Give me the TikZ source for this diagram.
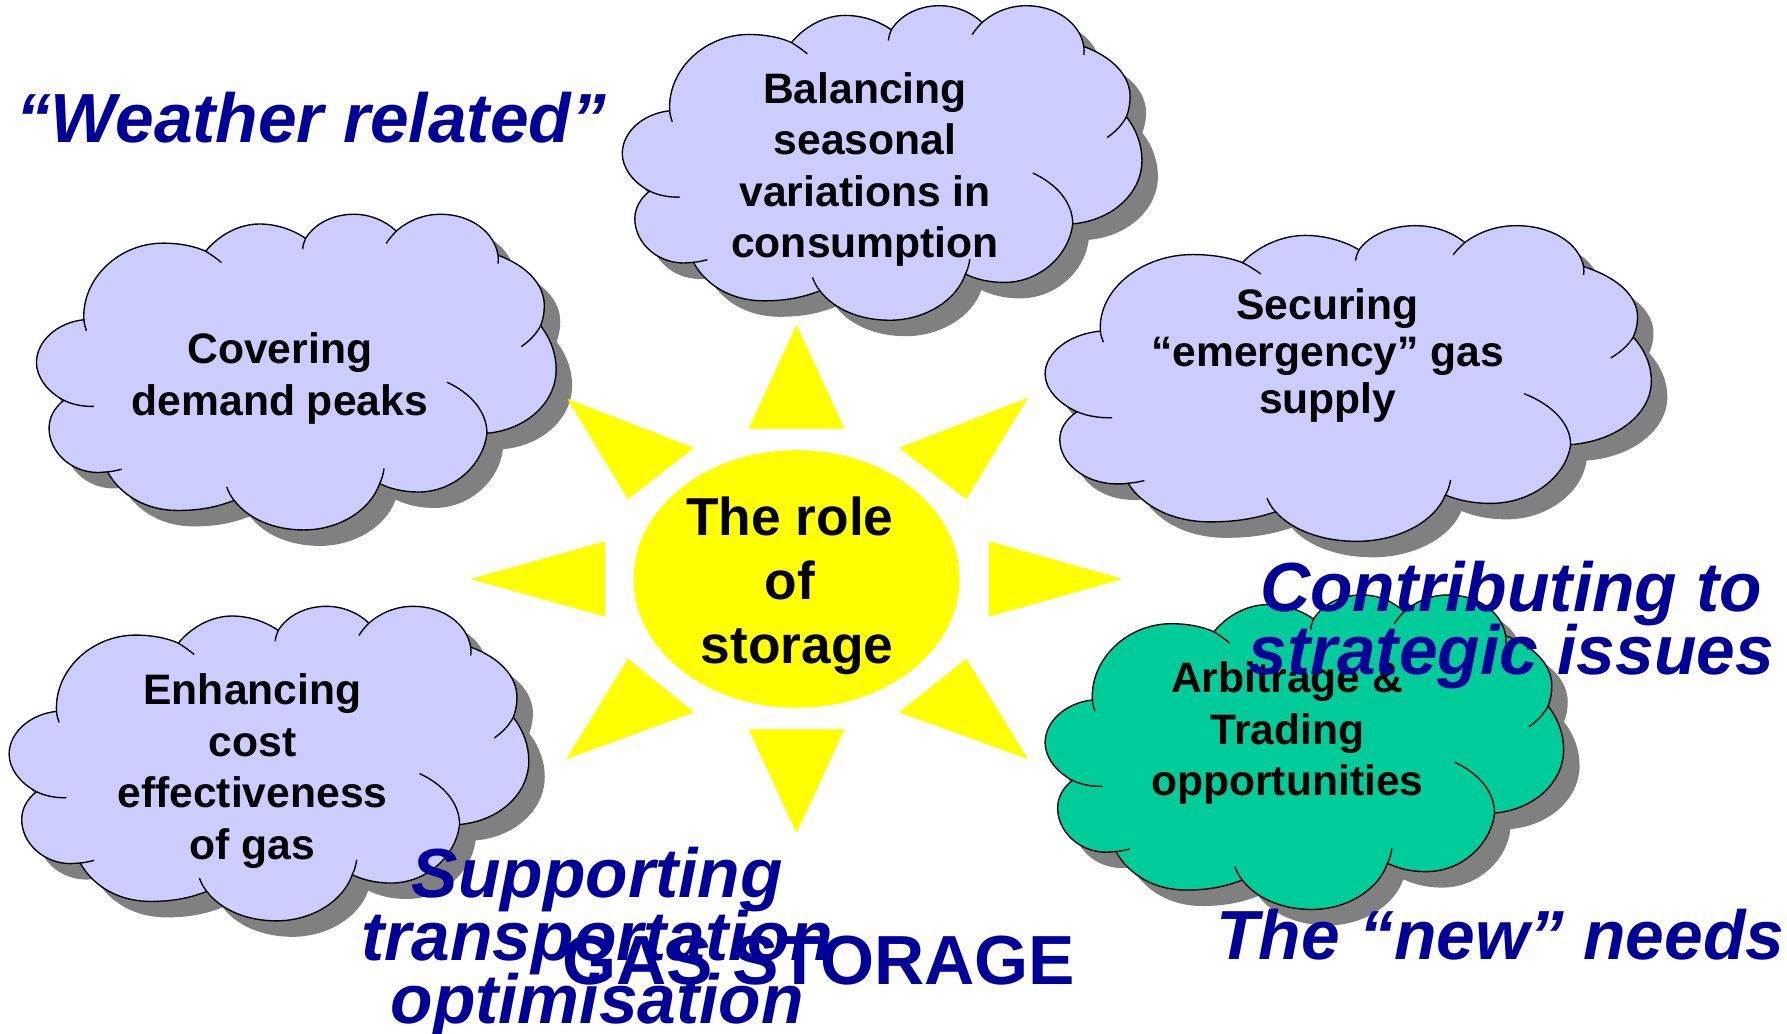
\documentclass[tikz,border=0pt]{standalone}
\usepackage{fontspec}
\setmainfont{Liberation Sans}
\definecolor{cloudblue}{HTML}{CCCCFF}
\definecolor{cloudgreen}{HTML}{00CC99}
\definecolor{shadowgrey}{HTML}{808080}
\definecolor{headblue}{HTML}{000099}
\definecolor{sunyellow}{HTML}{FFFF00}
\newcommand{\tightlines}{\setlength{\lineskiplimit}{-20pt}}
\newcommand{\cloudoutline}{(132,572) .. controls (85,545) and (58,500) .. (58,460) .. controls (58,395) and (115,340) .. (186,332)
 .. controls (180,210) and (280,104) .. (400,104) .. controls (445,104) and (485,113) .. (515,128)
 .. controls (555,75) and (610,47) .. (660,47) .. controls (705,47) and (750,63) .. (785,90)
 .. controls (810,45) and (860,18) .. (915,18) .. controls (960,18) and (1000,37) .. (1030,68)
 .. controls (1065,35) and (1105,18) .. (1150,18) .. controls (1230,18) and (1295,70) .. (1305,140)
 .. controls (1380,170) and (1430,225) .. (1430,290) .. controls (1430,310) and (1427,330) .. (1420,350)
 .. controls (1448,390) and (1462,435) .. (1462,480) .. controls (1462,580) and (1380,660) .. (1275,670)
 .. controls (1265,765) and (1185,845) .. (1090,845) .. controls (1050,845) and (1015,836) .. (985,820)
 .. controls (960,900) and (875,958) .. (780,958) .. controls (700,958) and (630,925) .. (592,870)
 .. controls (545,890) and (500,900) .. (440,900) .. controls (355,900) and (285,855) .. (250,785)
 .. controls (240,787) and (235,787) .. (225,787) .. controls (150,787) and (92,725) .. (92,655)
 .. controls (92,625) and (105,595) .. (132,572) -- cycle}
\newcommand{\cloudhooks}{(132,572) .. controls (155,585) and (185,591) .. (213,590)
 (186,332) .. controls (187,345) and (190,355) .. (193,365)
 (515,128) .. controls (530,138) and (545,150) .. (558,162)
 (785,90) .. controls (781,100) and (778,110) .. (777,122)
 (1030,68) .. controls (1020,80) and (1010,92) .. (1003,105)
 (1305,140) .. controls (1306,150) and (1306,157) .. (1305,165)
 (1420,350) .. controls (1408,375) and (1390,395) .. (1368,412)
 (1275,670) .. controls (1275,605) and (1230,550) .. (1167,518)
 (985,820) .. controls (992,805) and (995,790) .. (997,775)
 (592,870) .. controls (583,858) and (577,845) .. (572,830)
 (250,785) .. controls (262,784) and (275,781) .. (288,777)}
% left, top, width, height, colour
\newcommand{\drawcloud}[5]{%
 \pgfmathsetmacro{\cw}{#3/1404}\pgfmathsetmacro{\ch}{#4/940}%
 \begin{scope}[shift={(#1+14,#2+14)},xscale=\cw,yscale=\ch,shift={(-58,-18)}]
  \fill[shadowgrey] \cloudoutline;
 \end{scope}
 \begin{scope}[shift={(#1,#2)},xscale=\cw,yscale=\ch,shift={(-58,-18)}]
  \filldraw[fill=#5,cloudline] \cloudoutline;
  \draw[cloudline] \cloudhooks;
 \end{scope}}
\tikzset{
 cloudline/.style={draw=black,line width=0.6pt},
 ray/.style={fill=sunyellow,draw=none},
 cloudtext/.style={font=\fontsize{18.7}{22.6}\selectfont\bfseries\tightlines,align=center,text=black,inner sep=0pt},
 suntext/.style={font=\fontsize{23.4}{28}\selectfont\bfseries\tightlines,align=center,text=black,inner sep=0pt},
 headtext/.style={font=\fontsize{30.5}{27.7}\selectfont\bfseries\itshape\tightlines,align=center,text=headblue,inner sep=0pt},
 headplain/.style={font=\fontsize{30.5}{27.7}\selectfont\bfseries,align=center,text=headblue,inner sep=0pt}
}
\begin{document}
\begin{tikzpicture}[x=0.5pt,y=-0.5pt]
\useasboundingbox (0,0) rectangle (1568,907);
\drawcloud{546}{5}{456}{276}{cloudblue}
\drawcloud{32}{188}{456}{277}{cloudblue}
\drawcloud{917}{198}{532}{277}{cloudblue}
\drawcloud{8}{532}{456}{276}{cloudblue}
\drawcloud{917}{522}{455}{276}{cloudgreen}
\node[cloudtext] (balancing) at (759,148.5) {Balancing\\seasonal\\variations in\\consumption};
\node[cloudtext] (covering) at (245.5,332) {Covering\\demand peaks};
\node[cloudtext,font=\fontsize{18.7}{20.5}\selectfont\bfseries\tightlines] (securing) at (1165,312) {Securing\\“emergency” gas\\supply};
\node[cloudtext] (enhancing) at (221.5,676.5) {Enhancing\\cost\\effectiveness\\of gas};
\node[cloudtext] (arbitrage) at (1129.5,643.5) {Arbitrage \&\\Trading\\opportunities};
\fill[sunyellow] (699,508) ellipse [x radius=143,y radius=113];
\fill[ray] (699,285) -- (657,376) -- (741,376) -- cycle;
\fill[ray] (699,731) -- (657,640) -- (741,640) -- cycle;
\fill[ray] (413,508) -- (531,475) -- (531,541) -- cycle;
\fill[ray] (985,508) -- (868,475) -- (868,541) -- cycle;
\fill[ray] (902,349) -- (789,393) -- (848,438) -- cycle;
\fill[ray] (498,350) -- (609,393) -- (551,438) -- cycle;
\fill[ray] (902,666) -- (789,625) -- (848,578) -- cycle;
\fill[ray] (497,666) -- (609,625) -- (551,578) -- cycle;
\node[suntext] (role) at (693,514) {The role\\of\\\hspace*{6.5pt}storage};
\node[headtext] (weather) at (273,103) {“Weather related”};
\node[headtext] (strategic) at (1326,548.5) {Contributing to\\strategic issues};
\node[headtext] (transport) at (524,827) {Supporting\\transportation\\optimisation};
\node[headplain] (gas) at (718.5,843) {GAS STORAGE};
\node[headtext] (new) at (1316.5,820) {The “new” needs};
\end{tikzpicture}
\end{document}
